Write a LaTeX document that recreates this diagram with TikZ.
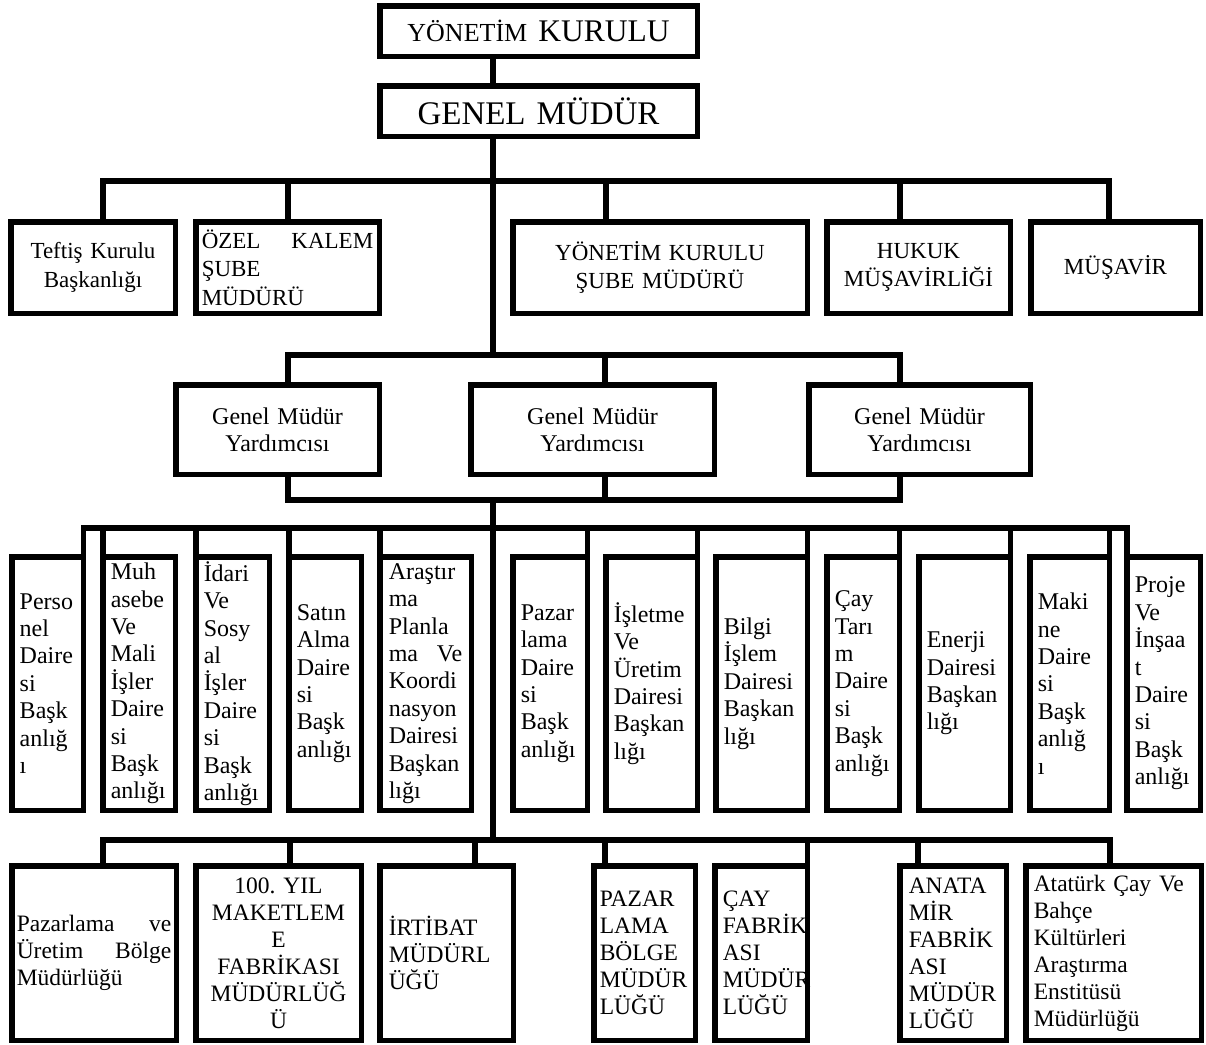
\documentclass[tikz,border=0pt]{standalone}
\usepackage{fontspec}
\setmainfont{Liberation Serif}
\frenchspacing
% #1 name, #2 x1, #3 y1, #4 x2, #5 y2 (outer edges, px), #6 total side padding, #7 style, #8 text
\newcommand\obox[8]{%
  \pgfmathsetmacro\bxW{#4-#2-5.5}\pgfmathsetmacro\bxH{#5-#3-5.5}%
  \pgfmathsetmacro\bxX{(#2+#4)/2}\pgfmathsetmacro\bxY{(#3+#5)/2}%
  \pgfmathsetmacro\bxT{#4-#2-5.5-#6}%
  \node[bx,#7,minimum width=\bxW pt,minimum height=\bxH pt,text width=\bxT pt] (#1) at (\bxX,\bxY) {#8};}
\begin{document}
\begin{tikzpicture}[x=1pt,y=-1pt,
  conn/.style={line width=5.5pt,line cap=rect},
  bx/.style={draw,line width=5.5pt,inner sep=0pt,outer sep=0pt},
  rtwo/.style={font=\fontsize{23}{28.5}\selectfont},
  gmy/.style={font=\fontsize{24}{27}\selectfont,align=center},
  dept/.style={font=\fontsize{24}{27.4}\selectfont,align=left},
  low/.style={font=\fontsize{23.5}{27}\selectfont,align=left}]
\useasboundingbox (0,0) rectangle (1206,1044);

% ---------- top ----------
\obox{yk}{377}{3}{700}{59}{16}{align=center}{\fontsize{26}{30}\selectfont YÖNETİM\hspace{11pt}\fontsize{31.5}{34}\selectfont KURULU}
\obox{gm}{377}{83}{700}{139}{16}{align=center,font=\fontsize{33}{36}\selectfont}{GENEL MÜDÜR}

\coordinate (tr) at (493,0);
\coordinate (bustwo) at (0,355);
\coordinate (bk) at (0,500);
\coordinate (busthree) at (0,528);
\coordinate (busfour) at (0,840);

% ---------- row 2 ----------
\obox{tef}{8}{219}{178}{316}{16}{rtwo,align=center}{Teftiş Kurulu\\Başkanlığı}
\obox{ozel}{193}{219}{382}{316}{12}{rtwo,align=left}{ÖZEL\hfill KALEM\\ŞUBE\\MÜDÜRÜ}
\obox{ykse}{510}{219}{810}{316}{16}{rtwo,align=center}{YÖNETİM KURULU\\ŞUBE MÜDÜRÜ}
\obox{hukuk}{824}{219}{1013}{316}{16}{rtwo,align=center}{HUKUK\\MÜŞAVİRLİĞİ}
\obox{mus}{1028}{219}{1203}{316}{16}{rtwo,align=center}{MÜŞAVİR}

\coordinate (ta) at (103,181);
\coordinate (tb) at (288,181);
\coordinate (tc) at (606,181);
\coordinate (td) at (900,181);
\coordinate (te) at (1109,181);

\draw[conn] (yk.south -| tr) -- (gm.north -| tr);
\draw[conn] (gm.south -| tr) -- (bustwo -| tr);
\draw[conn] (ta) -- (te);
\draw[conn] (ta) -- (ta |- tef.north);
\draw[conn] (tb) -- (tb |- ozel.north);
\draw[conn] (tc) -- (tc |- ykse.north);
\draw[conn] (td) -- (td |- hukuk.north);
\draw[conn] (te) -- (te |- mus.north);

% ---------- Genel Mudur Yardimcisi ----------
\obox{ga}{173}{382}{382}{477}{16}{gmy}{Genel Müdür\\Yardımcısı}
\obox{gb}{468}{382}{717}{477}{16}{gmy}{Genel Müdür\\Yardımcısı}
\obox{gc}{806}{382}{1033}{477}{16}{gmy}{Genel Müdür\\Yardımcısı}

\coordinate (ua) at (288,355);
\coordinate (ub) at (605,355);
\coordinate (uc) at (900,355);
\draw[conn] (ua) -- (uc);
\draw[conn] (ua) -- (ua |- ga.north);
\draw[conn] (ub) -- (ub |- gb.north);
\draw[conn] (uc) -- (uc |- gc.north);
\draw[conn] (ua |- ga.south) -- (ua |- bk) -- (uc |- bk) -- (uc |- gc.south);
\draw[conn] (ub |- gb.south) -- (ub |- bk);
\draw[conn] (bk -| tr) -- (busfour -| tr);

% ---------- departments ----------
\obox{pa}{9}{554}{86}{813}{16}{dept}{Perso\\nel\\Daire\\si\\Başk\\anlığ\\ı}
\obox{pb}{100}{554}{178}{813}{16}{dept}{Muh\\asebe\\Ve\\Mali\\İşler\\Daire\\si\\Başk\\anlığı}
\obox{pc}{193}{554}{272}{813}{16}{dept}{İdari\\Ve\\Sosy\\al\\İşler\\Daire\\si\\Başk\\anlığı}
\obox{pd}{286}{554}{364}{813}{16}{dept}{Satın\\Alma\\Daire\\si\\Başk\\anlığı}
\obox{pe}{377}{554}{474}{813}{18}{dept}{Araştır\\ma\\Planla\\ma\hfill Ve\\Koordi\\nasyon\\Dairesi\\Başkan\\lığı}
\obox{pf}{510}{554}{590}{813}{16}{dept}{Pazar\\lama\\Daire\\si\\Başk\\anlığı}
\obox{pg}{603}{554}{700}{813}{16}{dept}{İşletme\\Ve\\Üretim\\Dairesi\\Başkan\\lığı}
\obox{ph}{713}{554}{810}{813}{16}{dept}{Bilgi\\İşlem\\Dairesi\\Başkan\\lığı}
\obox{pi}{824}{554}{902}{813}{16}{dept}{Çay\\Tarı\\m\\Daire\\si\\Başk\\anlığı}
\obox{pj}{916}{554}{1013}{813}{16}{dept}{Enerji\\Dairesi\\Başkan\\lığı}
\obox{pk}{1027}{554}{1112}{813}{16}{dept}{Maki\\ne\\Daire\\si\\Başk\\anlığ\\ı}
\obox{pl}{1124}{554}{1203}{813}{16}{dept}{Proje\\Ve\\İnşaa\\t\\Daire\\si\\Başk\\anlığı}

\draw[conn] (pa.north east |- busthree) -- (pl.north west |- busthree);
\draw[conn] (pa.north east) -- (pa.north east |- busthree);
\draw[conn] (pb.north west) -- (pb.north west |- busthree);
\draw[conn] (pc.north west) -- (pc.north west |- busthree);
\draw[conn] (pd.north west) -- (pd.north west |- busthree);
\draw[conn] (pe.north west) -- (pe.north west |- busthree);
\draw[conn] (pf.north east) -- (pf.north east |- busthree);
\draw[conn] (pg.north east) -- (pg.north east |- busthree);
\draw[conn] (ph.north east) -- (ph.north east |- busthree);
\draw[conn] (pi.north east) -- (pi.north east |- busthree);
\draw[conn] (pj.north east) -- (pj.north east |- busthree);
\draw[conn] (pk.north east) -- (pk.north east |- busthree);
\draw[conn] (pl.north west) -- (pl.north west |- busthree);

% ---------- bottom row ----------
\obox{ba}{9}{863}{179}{1043}{10}{low}{Pazarlama\hfill ve\\Üretim\hfill Bölge\\Müdürlüğü}
\obox{bb}{193}{863}{364}{1043}{8}{low,align=center}{100. YIL\\MAKETLEM\\E\\FABRİKASI\\MÜDÜRLÜĞ\\Ü}
\obox{bc}{377}{863}{516}{1043}{18}{low}{İRTİBAT\\MÜDÜRL\\ÜĞÜ}
\obox{bd}{591}{863}{698}{1043}{12}{low}{PAZAR\\LAMA\\BÖLGE\\MÜDÜR\\LÜĞÜ}
\obox{be}{712}{863}{810}{1043}{16}{low}{ÇAY\\FABRİK\\ASI\\MÜDÜR\\LÜĞÜ}
\obox{bf}{897}{863}{1009}{1043}{18}{low}{ANATA\\MİR\\FABRİK\\ASI\\MÜDÜR\\LÜĞÜ}
\obox{bg}{1023}{863}{1204}{1043}{16}{low}{Atatürk Çay Ve\\Bahçe\\Kültürleri\\Araştırma\\Enstitüsü\\Müdürlüğü}

\coordinate (da) at (103,840);
\coordinate (db) at (290,840);
\coordinate (dc) at (475,840);
\coordinate (dd) at (605,840);
\coordinate (df) at (918,840);
\coordinate (dg) at (1110,840);
\draw[conn] (da) -- (dg);
\draw[conn] (da) -- (da |- ba.north);
\draw[conn] (db) -- (db |- bb.north);
\draw[conn] (dc) -- (dc |- bc.north);
\draw[conn] (dd) -- (dd |- bd.north);
\draw[conn] (be.north east) -- (be.north east |- busfour);
\draw[conn] (df) -- (df |- bf.north);
\draw[conn] (dg) -- (dg |- bg.north);
\end{tikzpicture}
\end{document}
